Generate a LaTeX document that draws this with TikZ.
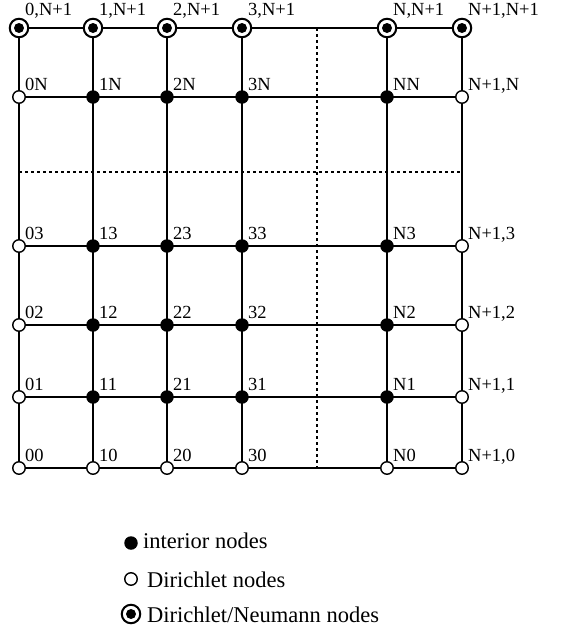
\documentclass[tikz,border=0pt]{standalone}
\usepackage{fontspec}
\setmainfont{Liberation Serif}
\usetikzlibrary{backgrounds}
\tikzset{
  gridline/.style={line width=1.9pt},
  dotline/.style={line width=1.7pt, dash pattern=on 3pt off 3pt},
  inode/.style={circle, fill=black, inner sep=0pt, minimum size=13.5pt},
  dnode/.style={circle, draw=black, fill=white, line width=1.4pt, inner sep=0pt, minimum size=12.5pt},
  dnnode/.style={circle, draw=black, fill=white, line width=2pt, inner sep=0pt, minimum size=18.5pt,
    path picture={\fill[black] (path picture bounding box.center) circle (5pt);}},
  lab/.style={anchor=base west, inner sep=0pt, font=\fontsize{18.5}{22}\selectfont},
  legtext/.style={anchor=base west, inner sep=0pt, font=\fontsize{22.5}{26}\selectfont},
}
\begin{document}
\begin{tikzpicture}[x=1pt, y=-1pt]
\useasboundingbox (0,0) rectangle (561,635);
% grid nodes
\foreach \c/\x/\cn in {0/19/0, 1/93/1, 2/167/2, 3/242/3, 4/387/N, 5/462/N+1}{
  \foreach \r/\y/\rn in {0/468/0, 1/397/1, 2/325/2, 3/246/3, 4/97/N, 5/28/N+1}{
    \ifnum\r=5
      \def\sty{dnnode}\def\txt{\cn,N+1}\def\ys{12.5pt}
    \else
      \def\ys{6.5pt}
      \ifnum\c=5
        \def\sty{dnode}\def\txt{N+1,\rn}
      \else
        \def\txt{\cn\rn}
        \ifnum\c=0 \def\sty{dnode}\else
          \ifnum\r=0 \def\sty{dnode}\else \def\sty{inode}\fi
        \fi
      \fi
    \fi
    \node[\sty] (n-\c-\r) at (\x,\y) {};
    \node[lab] (l-\c-\r) at ([xshift=6pt, yshift=\ys]n-\c-\r.center) {\txt};
  }
}
\coordinate (dh1) at (19,172);
\coordinate (dh2) at (462,172);
\coordinate (dv1) at (317,28);
\coordinate (dv2) at (317,468);
\begin{pgfonlayer}{background}
  \foreach \r in {0,...,5}{
    \draw[gridline] (n-0-\r.center) -- (n-1-\r.center) -- (n-2-\r.center) -- (n-3-\r.center) -- (n-4-\r.center) -- (n-5-\r.center);
  }
  \foreach \c in {0,...,5}{
    \draw[gridline] (n-\c-0.center) -- (n-\c-1.center) -- (n-\c-2.center) -- (n-\c-3.center) -- (n-\c-4.center) -- (n-\c-5.center);
  }
  \draw[dotline] (dh1) -- (dh2);
  \draw[dotline] (dv1) -- (dv2);
\end{pgfonlayer}
% legend
\node[inode] (leg1) at (131,543) {};
\node[legtext] (legt1) at (143,548) {interior nodes};
\node[dnode] (leg2) at (131,579) {};
\node[legtext] (legt2) at (147,587) {Dirichlet nodes};
\node[dnnode] (leg3) at (131,614) {};
\node[legtext] (legt3) at (147,622) {Dirichlet/Neumann nodes};
\end{tikzpicture}
\end{document}
